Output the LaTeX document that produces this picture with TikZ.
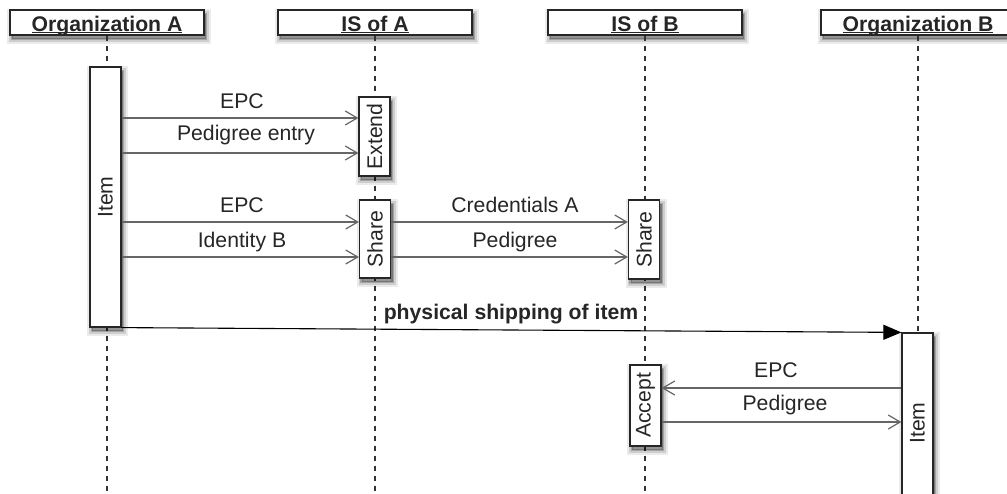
\documentclass[tikz,border=0pt]{standalone}
\usepackage{fontspec}
\setmainfont{Liberation Sans}
\usetikzlibrary{arrows.meta}
\newcommand\myul[1]{\setbox0\hbox{#1}\rlap{\rule[-1.6pt]{\wd0}{1.1pt}}\box0}
\begin{document}
\begin{tikzpicture}[x=1pt,y=-1pt,
  every node/.style={font=\fontsize{21.2}{25}\selectfont, text=black!85},
  shad/.style={
    preaction={draw=black,draw opacity=0.08,line width=10pt,fill=black,fill opacity=0.08,transform canvas={shift={(2pt,-4pt)}}},
    preaction={draw=black,draw opacity=0.12,line width=6pt,fill=black,fill opacity=0.08,transform canvas={shift={(2pt,-4pt)}}},
    preaction={draw=black,draw opacity=0.2,line width=2.5pt,fill=black,fill opacity=0.15,transform canvas={shift={(2pt,-4pt)}}}},
  head/.style={draw=black!85,line width=1.2pt,fill=white,minimum width=194pt,minimum height=25pt,inner sep=0pt,
    text height=19pt,text depth=2pt,font=\fontsize{21.2}{25}\selectfont\bfseries,shad},
  act/.style={draw=black!85,line width=1.2pt,fill=white,minimum width=31pt,inner sep=0pt,shad},
  life/.style={draw=black!80,line width=1.1pt,dash pattern=on 5pt off 5pt},
  msg/.style={draw=black!60,line width=1.4pt,-{Straight Barb[length=12pt,width=14pt,line width=1.2pt]}},
  lab/.style={anchor=base,inner sep=0pt},
  ship/.style={draw=black,line width=1.1pt,-{Triangle[length=18pt,width=15pt]}}
]
\useasboundingbox (0,0) rectangle (1007,493);
\path[fill=white] (0,0) rectangle (1007,493);

% headers
\node[head] (hOA) at (107,22.5) {\myul{Organization A}};
\node[head] (hIA) at (375,22.5) {\myul{IS of A}};
\node[head] (hIB) at (645,22.5) {\myul{IS of B}};
\node[head] (hOB) at (918,22.5) {\myul{Organization B}};

% lifelines
\coordinate (eOA) at (107,493);
\coordinate (eIA) at (375,493);
\coordinate (eIB) at (645,493);
\coordinate (eOB) at (918,493);
\draw[life] (hOA.south) -- (eOA);
\draw[life] (hIA.south) -- (eIA);
\draw[life] (hIB.south) -- (eIB);
\draw[life] (hOB.south) -- (eOB);

% activations
\node[act,minimum height=260pt] (itemA) at (105.5,197) {\rotatebox{90}{Item}};
\node[act,minimum height=79pt] (ext) at (374.5,136.5) {\rotatebox{90}{Extend}};
\node[act,minimum height=78pt] (shA) at (375,239) {\rotatebox{90}{Share}};
\node[act,minimum height=79pt] (shB) at (644,239.5) {\rotatebox{90}{Share}};
\node[act,minimum height=81pt] (acc) at (645.5,405.5) {\rotatebox{90}{Accept}};
\node[act,minimum height=180pt] (itemB) at (917.5,423) {\rotatebox{90}{Item}};

% messages
\draw[msg] (itemA.east |- 0,118) -- (ext.west |- 0,118);
\node[lab] (l1) at (242,108) {EPC};
\draw[msg] (itemA.east |- 0,153) -- (ext.west |- 0,153);
\node[lab] (l2) at (246,140) {Pedigree entry};

\draw[msg] (itemA.east |- 0,222) -- (shA.west |- 0,222);
\node[lab] (l3) at (242,212) {EPC};
\draw[msg] (itemA.east |- 0,257) -- (shA.west |- 0,257);
\node[lab] (l4) at (242,247) {Identity B};

\draw[msg] (shA.east |- 0,222) -- (shB.west |- 0,222);
\node[lab] (l5) at (515,212) {Credentials A};
\draw[msg] (shA.east |- 0,257) -- (shB.west |- 0,257);
\node[lab] (l6) at (515,247) {Pedigree};

\draw[ship] (itemA.south east) -- (itemB.north west);
\node[lab,font=\fontsize{21.2}{25}\selectfont\bfseries] (l7) at (511,319) {physical shipping of item};

\draw[msg] (itemB.west |- 0,388) -- (acc.east |- 0,388);
\node[lab] (l8) at (776,377) {EPC};
\draw[msg] (acc.east |- 0,422) -- (itemB.west |- 0,422);
\node[lab] (l9) at (785,410) {Pedigree};
\end{tikzpicture}
\end{document}
